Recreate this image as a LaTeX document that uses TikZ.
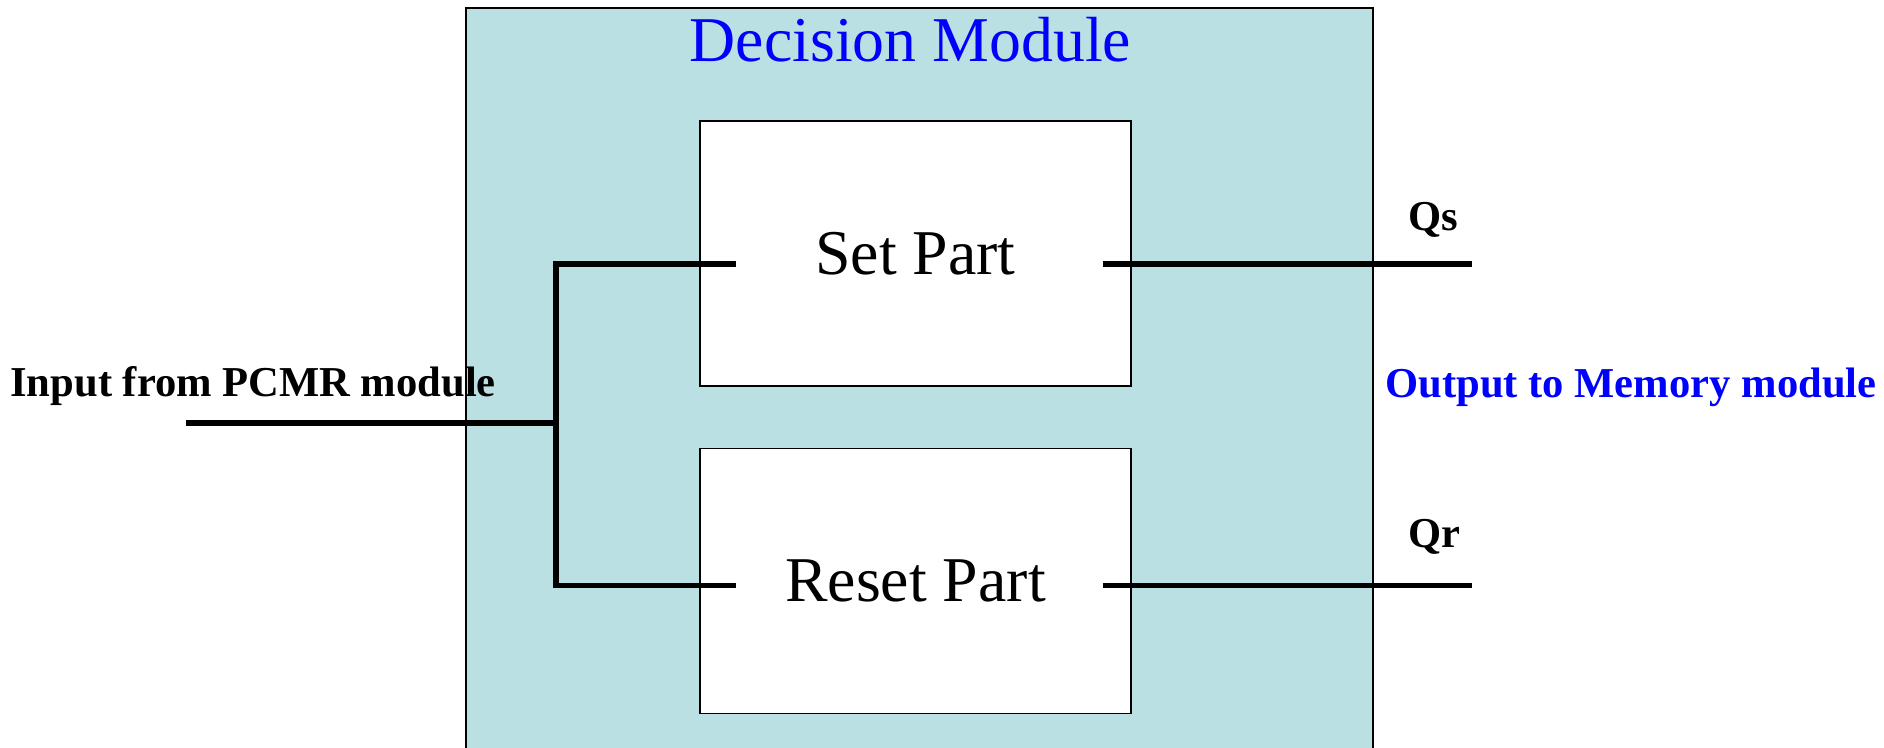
\documentclass[tikz,border=0pt]{standalone}
\usepackage{fontspec}
\setmainfont{Liberation Serif}
\usetikzlibrary{positioning}
\definecolor{modfill}{RGB}{187,224,227}
\tikzstyle{module} = [rectangle, draw=black, fill=modfill, line width=0.8pt]
\tikzstyle{part} = [rectangle, minimum width=215.5pt, minimum height=132.5pt, text centered, draw=black, fill=white, line width=0.8pt, font=\fontsize{31.9}{36}\selectfont]
\tikzstyle{wire} = [line width=2.6pt]
\tikzstyle{tag} = [inner sep=0pt, anchor=base west, font=\fontsize{21.3}{25}\selectfont\bfseries]

\begin{document}
\begin{tikzpicture}[x=0.5pt, y=-0.5pt]
		\clip (0,0) rectangle (1884,748);
		\draw [module] (466,8) rectangle (1373,780);
		\node (title) [inner sep=0pt, anchor=base, text=blue, font=\fontsize{31.9}{36}\selectfont] at (910.5,62) {Decision Module};
		\node (set) [part] at (915.5,253.5) {Set Part};
		\node (reset) [part, below = 30.5pt of set] {Reset Part};
		\coordinate (setin) at ([xshift=18.5pt, yshift=-5.25pt]set.west);
		\coordinate (setout) at ([xshift=-14.5pt, yshift=-5.25pt]set.east);
		\coordinate (resetin) at ([xshift=18.5pt, yshift=-2pt]reset.west);
		\coordinate (resetout) at ([xshift=-14.5pt, yshift=-2pt]reset.east);
		\coordinate (in) at (186,423);
		\coordinate (fork) at (556,423);
		\coordinate (qs) at ([xshift=184.5pt]setout);
		\coordinate (qr) at ([xshift=184.5pt]resetout);
		\draw [wire] (in) -- (fork);
		\draw [wire] (setin) -| (fork) |- (resetin);
		\draw [wire] (setout) -- (qs);
		\draw [wire] (resetout) -- (qr);
		\node (inlabel) [tag] at (10,397) {Input from PCMR module};
		\node (outlabel) [tag, text=blue] at (1385,398) {Output to Memory module};
		\node (qslabel) [tag] at (1408,231) {Qs};
		\node (qrlabel) [tag] at (1408,547) {Qr};
	\end{tikzpicture}
\end{document}
